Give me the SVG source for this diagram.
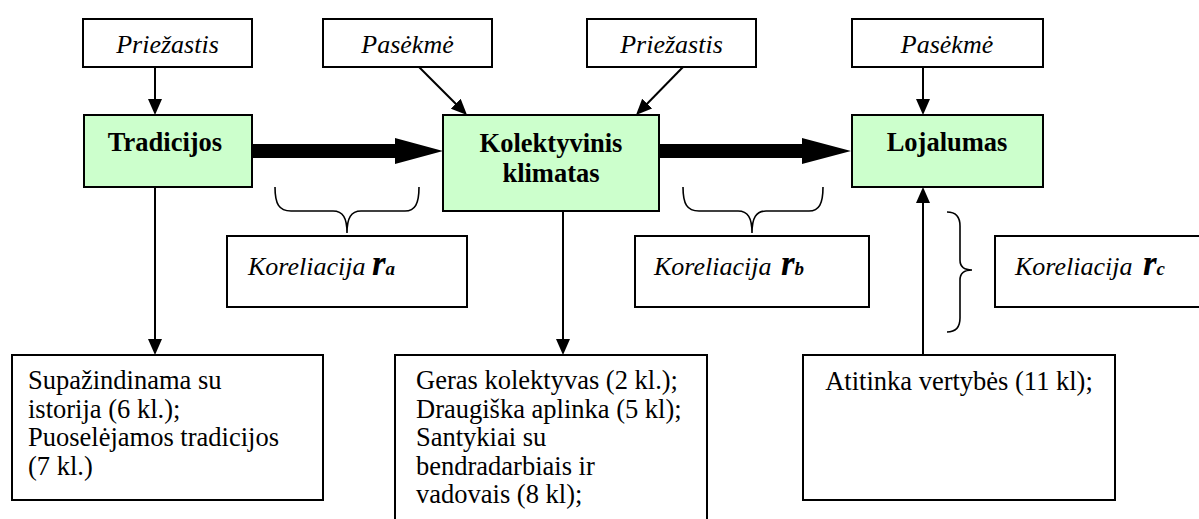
<svg xmlns="http://www.w3.org/2000/svg" width="1199" height="519" viewBox="0 0 1199 519">
  <defs>
    <marker id="arrow" markerUnits="userSpaceOnUse" markerWidth="16" markerHeight="14" refX="12" refY="7" orient="auto">
      <path d="M0,0 L16,7 L0,14 z" fill="#000"/>
    </marker>
    <style>
      .box { fill: #fff; stroke: #000; stroke-width: 2; }
      .main { fill: #ccffcc; stroke: #000; stroke-width: 2; }
      .conn { stroke: #000; stroke-width: 2; fill: none; }
      .brace { stroke: #000; stroke-width: 1.6; fill: none; }
      .fat { fill: #000; }
      text { font-family: "Liberation Serif", "Times New Roman", serif; fill: #000; }
      .it { font-size: 26px; font-style: italic; }
      .bold { font-size: 26.5px; font-weight: bold; }
      .body { font-size: 26.5px; }
      .r { font-size: 35px; font-weight: bold; font-style: italic; }
      .sub { font-size: 19px; font-weight: bold; font-style: italic; }
    </style>
  </defs>

  <!-- cause / effect labels -->
  <g id="cause-1">
    <rect class="box" x="83" y="19" width="169" height="48"/>
    <text class="it" x="167.5" y="53" text-anchor="middle">Priežastis</text>
  </g>
  <g id="effect-1">
    <rect class="box" x="323" y="19" width="169" height="48"/>
    <text class="it" x="407.5" y="53" text-anchor="middle">Pasėkmė</text>
  </g>
  <g id="cause-2">
    <rect class="box" x="587" y="19" width="169" height="48"/>
    <text class="it" x="671.5" y="53" text-anchor="middle">Priežastis</text>
  </g>
  <g id="effect-2">
    <rect class="box" x="852" y="19" width="191" height="48"/>
    <text class="it" x="947" y="53" text-anchor="middle">Pasėkmė</text>
  </g>

  <!-- main factors -->
  <g id="tradicijos">
    <rect class="main" x="84" y="115" width="168" height="72"/>
    <text class="bold" x="165" y="151" text-anchor="middle">Tradicijos</text>
  </g>
  <g id="kolektyvinis-klimatas">
    <rect class="main" x="443" y="115" width="216" height="96"/>
    <text class="bold" x="551" y="152" text-anchor="middle">Kolektyvinis</text>
    <text class="bold" x="551" y="182" text-anchor="middle">klimatas</text>
  </g>
  <g id="lojalumas">
    <rect class="main" x="852" y="115" width="191" height="72"/>
    <text class="bold" x="947" y="151" text-anchor="middle">Lojalumas</text>
  </g>

  <!-- correlation labels -->
  <g id="correlation-a">
    <rect class="box" x="227" y="236" width="240" height="71"/>
    <text x="248" y="275"><tspan class="it">Koreliacija </tspan><tspan class="r">r</tspan><tspan class="sub">a</tspan></text>
  </g>
  <g id="correlation-b">
    <rect class="box" x="635" y="236" width="234" height="71"/>
    <text x="654" y="275"><tspan class="it">Koreliacija </tspan><tspan class="r" dx="3">r</tspan><tspan class="sub">b</tspan></text>
  </g>
  <g id="correlation-c">
    <rect class="box" x="995" y="236" width="215" height="71"/>
    <text x="1015" y="275"><tspan class="it">Koreliacija </tspan><tspan class="r" dx="4">r</tspan><tspan class="sub">c</tspan></text>
  </g>

  <!-- indicator boxes -->
  <g id="indicators-tradicijos">
    <rect class="box" x="12" y="355" width="311" height="145"/>
    <text class="body" x="28" y="389">Supažindinama su</text>
    <text class="body" x="28" y="417.5">istorija (6 kl.);</text>
    <text class="body" x="28" y="446">Puoselėjamos tradicijos</text>
    <text class="body" x="28" y="474.5">(7 kl.)</text>
  </g>
  <g id="indicators-klimatas">
    <rect class="box" x="395" y="355" width="312" height="200"/>
    <text class="body" x="416" y="389">Geras kolektyvas (2 kl.);</text>
    <text class="body" x="416" y="417.5">Draugiška aplinka (5 kl);</text>
    <text class="body" x="416" y="446">Santykiai su</text>
    <text class="body" x="416" y="474.5">bendradarbiais ir</text>
    <text class="body" x="416" y="503">vadovais (8 kl);</text>
  </g>
  <g id="indicators-lojalumas">
    <rect class="box" x="803" y="355" width="312" height="145"/>
    <text class="body" x="959" y="390" text-anchor="middle">Atitinka vertybės (11 kl);</text>
  </g>

  <!-- connectors -->
  <g id="connectors">
    <line class="conn" x1="155" y1="67" x2="155" y2="111" marker-end="url(#arrow)"/>
    <line class="conn" x1="419" y1="67" x2="464.2" y2="112.2" marker-end="url(#arrow)"/>
    <line class="conn" x1="683" y1="67" x2="638.8" y2="112.2" marker-end="url(#arrow)"/>
    <line class="conn" x1="923" y1="67" x2="923" y2="111" marker-end="url(#arrow)"/>

    <polygon class="fat" points="252,144 395,144 395,138 443,151 395,164 395,158 252,158"/>
    <polygon class="fat" points="659,144 802,144 802,138 851,151 802,164 802,158 659,158"/>

    <line class="conn" x1="155" y1="187" x2="155" y2="351" marker-end="url(#arrow)"/>
    <line class="conn" x1="563" y1="211" x2="563" y2="351" marker-end="url(#arrow)"/>
    <line class="conn" x1="923" y1="355" x2="923" y2="191" marker-end="url(#arrow)"/>

    <!-- braces -->
    <path class="brace" d="M275,187 C275,204 279,211 291,211 L333,211 C343,211 347,218 347,233 C347,218 351,211 361,211 L405,211 C415,211 419,204 419,187"/>
    <path class="brace" d="M683,187 C683,204 687,211 699,211 L738,211 C748,211 752,218 752,233 C752,218 756,211 766,211 L809,211 C819,211 823,204 823,187"/>
    <path class="brace" d="M947,212 C955,212 960,216 960,226 L960,260 C960,267 964,270 972,270 C964,270 960,273 960,280 L960,318 C960,328 955,332 947,332"/>
  </g>
</svg>
